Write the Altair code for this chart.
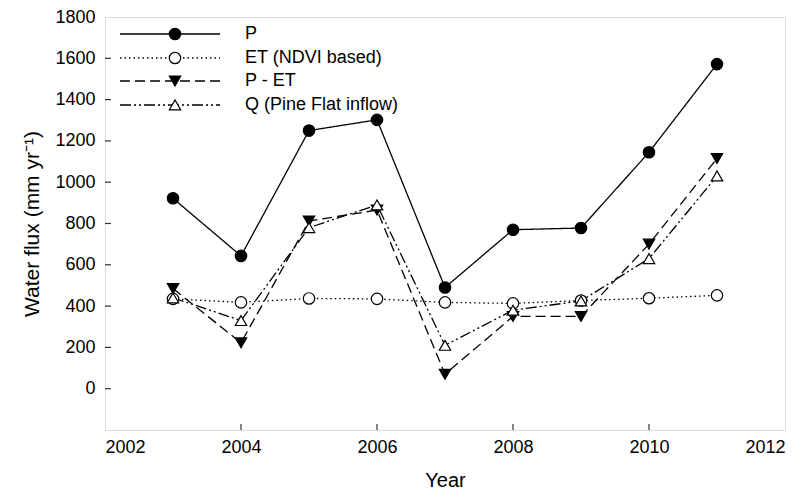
import altair as alt
import pandas as pd

years = [2003, 2004, 2005, 2006, 2007, 2008, 2009, 2010, 2011]
p_vals = [922, 643, 1250, 1302, 490, 770, 778, 1145, 1572]
et_vals = [435, 418, 437, 435, 418, 413, 427, 438, 452]
pet_vals = [485, 222, 812, 865, 70, 350, 350, 700, 1115]
q_vals = [440, 330, 780, 890, 210, 380, 425, 630, 1030]

series_names = ["P", "ET (NDVI based)", "P - ET", "Q (Pine Flat inflow)"]
series_values = [p_vals, et_vals, pet_vals, q_vals]
series_dash = [[1, 0], [1.5, 3], [10, 5], [11, 3, 2, 3, 2, 3]]
series_shape = ["circle", "circle", "triangle-down", "triangle-up"]
series_fill = ["black", "white", "black", "white"]

x_ticks = [2002, 2004, 2006, 2008, 2010, 2012]
y_ticks = [0, 200, 400, 600, 800, 1000, 1200, 1400, 1600, 1800]

W, H = 680, 413
FONT = "Liberation Sans"

xscale = alt.Scale(domain=[2002, 2012], nice=False, zero=False)
yscale = alt.Scale(domain=[-200, 1800], nice=False, zero=False)

x_axis = alt.Axis(values=x_ticks, format="d", ticks=False, domain=False, grid=False,
                  labelFontSize=18, labelPadding=8, labelColor="black", labelFont=FONT,
                  title="Year", titleFontSize=20, titleFont=FONT, titleFontWeight="normal",
                  titlePadding=14, titleColor="black")
y_axis = alt.Axis(values=y_ticks, format="d", ticks=False, domain=False, grid=False,
                  labelFontSize=18, labelPadding=10, labelColor="black", labelFont=FONT,
                  title="Water flux (mm yr⁻¹)", titleFontSize=21, titleFont=FONT,
                  titleFontWeight="normal", titlePadding=12, titleColor="black")

layers = []
for name, vals, dash, shape, fill in zip(series_names, series_values, series_dash,
                                         series_shape, series_fill):
    df = pd.DataFrame({"year": years, "value": vals, "series": name})
    base = alt.Chart(df).encode(
        x=alt.X("year:Q", scale=xscale, axis=x_axis),
        y=alt.Y("value:Q", scale=yscale, axis=y_axis),
    )
    layers.append(base.mark_line(color="black", strokeWidth=1.3, strokeDash=dash))

for name, vals, dash, shape, fill in zip(series_names, series_values, series_dash,
                                         series_shape, series_fill):
    df = pd.DataFrame({"year": years, "value": vals, "series": name})
    base = alt.Chart(df).encode(
        x=alt.X("year:Q", scale=xscale, axis=x_axis),
        y=alt.Y("value:Q", scale=yscale, axis=y_axis),
    )
    layers.append(base.mark_point(shape=shape, filled=True, fill=fill, stroke="black",
                                  strokeWidth=1.2, size=130, opacity=1))

# inward tick marks
xt = pd.DataFrame({"t": x_ticks[1:-1]})
layers.append(alt.Chart(xt).mark_rule(color="#333", strokeWidth=1.2).encode(
    x=alt.X("t:Q", scale=xscale, axis=x_axis), y=alt.value(H), y2=alt.value(H - 6)))
yt = pd.DataFrame({"t": y_ticks[:-1]})
layers.append(alt.Chart(yt).mark_rule(color="#333", strokeWidth=1.2).encode(
    y=alt.Y("t:Q", scale=yscale, axis=y_axis), x=alt.value(0), x2=alt.value(6)))

# legend
leg_rows = [17, 41, 64, 88]
leg = pd.DataFrame({"label": series_names})
for i, (name, dash, shape, fill) in enumerate(zip(series_names, series_dash,
                                                  series_shape, series_fill)):
    d = alt.Chart(leg).transform_filter(alt.datum.label == name)
    layers.append(d.mark_rule(color="black", strokeWidth=1.3, strokeDash=dash).encode(
        x=alt.value(15), x2=alt.value(115), y=alt.value(leg_rows[i])))
    layers.append(d.mark_point(shape=shape, filled=True, fill=fill, stroke="black",
                               strokeWidth=1.2, size=130, opacity=1).encode(
        x=alt.value(70), y=alt.value(leg_rows[i])))
    layers.append(d.mark_text(align="left", baseline="middle", fontSize=18, font=FONT,
                              color="black").encode(
        x=alt.value(140), y=alt.value(leg_rows[i]), text="label:N"))

chart = alt.layer(*layers).properties(
    width=W, height=H,
    autosize=alt.AutoSizeParams(type="none"),
    padding={"left": 97, "top": 9, "right": 10, "bottom": 60},
).configure_view(stroke="#222", strokeWidth=1.5).configure(background="white")

chart.save("out.html", embed_options={"renderer": "svg", "actions": False})
